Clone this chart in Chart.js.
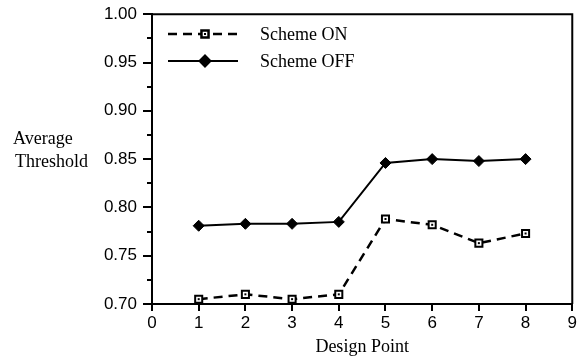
<!DOCTYPE html>
<html>
<head>
<meta charset="utf-8">
<script src="https://cdn.jsdelivr.net/npm/chart.js"></script>
<style>
  body { margin: 0; background: #fff; }
</style>
</head>
<body>
<canvas id="thresholdChart" width="581" height="358"></canvas>
<script>
// Data
const designPoints = [1, 2, 3, 4, 5, 6, 7, 8];
const schemeOn = [0.705, 0.710, 0.705, 0.710, 0.788, 0.782, 0.763, 0.773];
const schemeOff = [0.781, 0.783, 0.783, 0.785, 0.846, 0.850, 0.848, 0.850];
const seriesNames = ['Scheme ON', 'Scheme OFF'];
const yTitleLines = ['Average', 'Threshold'];
const xTitle = 'Design Point';

const toPoints = vals => designPoints.map((x, i) => ({ x: x, y: vals[i] }));

// box, tick marks, y title and legend drawn by hand
const decorations = {
    id: 'decorations',
    afterDatasetsDraw(chart) {
        const ctx = chart.ctx;
        // little dot in the middle of the open squares
        ctx.save();
        ctx.fillStyle = '#000';
        chart.getDatasetMeta(0).data.forEach(p => {
            ctx.fillRect(p.x - 1, p.y - 1, 2, 2);
        });
        ctx.restore();
    },
    afterDraw(chart) {
        const { ctx, chartArea: a, scales: { x, y } } = chart;
        ctx.save();
        ctx.strokeStyle = '#000';
        ctx.lineWidth = 2;

        // top and right side of the frame
        ctx.beginPath();
        ctx.moveTo(a.left, a.top);
        ctx.lineTo(a.right, a.top);
        ctx.lineTo(a.right, a.bottom);
        ctx.stroke();

        // y ticks: major every 0.05, minor halfway
        ctx.beginPath();
        for (let i = 0; i <= 12; i++) {
            const py = Math.round(y.getPixelForValue(0.7 + i * 0.025));
            const len = i % 2 ? 5 : 9;
            ctx.moveTo(a.left - len, py);
            ctx.lineTo(a.left, py);
        }
        // x ticks
        x.ticks.forEach(t => {
            const px = Math.round(x.getPixelForValue(t.value));
            ctx.moveTo(px, a.bottom);
            ctx.lineTo(px, a.bottom + 7);
        });
        ctx.stroke();

        // y title, horizontal, left of the axis
        ctx.fillStyle = '#000';
        ctx.font = '18px "Liberation Serif"';
        ctx.textAlign = 'left';
        ctx.textBaseline = 'middle';
        ctx.fillText(yTitleLines[0], 13, 139);
        ctx.fillText(yTitleLines[1], 15, 162);

        // legend
        const rows = [34, 61];
        chart.data.datasets.forEach((ds, i) => {
            const ly = rows[i];
            ctx.lineWidth = ds.borderWidth;
            ctx.setLineDash(ds.borderDash || []);
            ctx.beginPath();
            ctx.moveTo(168, ly);
            ctx.lineTo(238, ly);
            ctx.stroke();
            ctx.setLineDash([]);
            ctx.fillStyle = ds.pointBackgroundColor;
            ctx.strokeStyle = '#000';
            Chart.helpers.drawPoint(ctx, {
                pointStyle: ds.pointStyle,
                radius: ds.pointRadius,
                rotation: 0,
                borderWidth: ds.pointBorderWidth
            }, 205, ly);
            if (i === 0) {
                ctx.fillStyle = '#000';
                ctx.fillRect(204, ly - 1, 2, 2);
            }
            ctx.fillStyle = '#000';
            ctx.fillText(ds.label, 260, ly + 1);
        });
        ctx.restore();
    }
};

const ctx = document.getElementById('thresholdChart').getContext('2d');
new Chart(ctx, {
    type: 'line',
    data: {
        datasets: [
            {
                label: seriesNames[0],
                data: toPoints(schemeOn),
                borderColor: '#000',
                borderWidth: 2.5,
                borderDash: [9, 6],
                pointStyle: 'rect',
                pointRadius: 5,
                pointBackgroundColor: '#fff',
                pointBorderColor: '#000',
                pointBorderWidth: 2,
                tension: 0
            },
            {
                label: seriesNames[1],
                data: toPoints(schemeOff),
                borderColor: '#000',
                borderWidth: 2,
                pointStyle: 'rectRot',
                pointRadius: 5.5,
                pointBackgroundColor: '#000',
                pointBorderColor: '#000',
                pointBorderWidth: 1,
                tension: 0
            }
        ]
    },
    options: {
        responsive: false,
        animation: false,
        layout: { padding: 0 },
        plugins: {
            legend: { display: false },
            tooltip: { enabled: false }
        },
        scales: {
            x: {
                type: 'linear',
                min: 0,
                max: 9,
                afterFit: s => { s.height = 54; },
                ticks: {
                    stepSize: 1,
                    padding: 4,
                    color: '#000',
                    font: { family: 'Liberation Sans', size: 17 }
                },
                grid: { drawOnChartArea: false, tickLength: 5, tickColor: 'rgba(0,0,0,0)' },
                border: { color: '#000', width: 2 },
                title: {
                    display: true,
                    text: xTitle,
                    color: '#000',
                    padding: 0,
                    font: { family: 'Liberation Serif', size: 18 }
                }
            },
            y: {
                min: 0.7,
                max: 1.0,
                afterFit: s => { s.width = 152; },
                ticks: {
                    stepSize: 0.05,
                    padding: 4,
                    color: '#000',
                    font: { family: 'Liberation Sans', size: 17 },
                    callback: v => v.toFixed(2)
                },
                grid: { drawOnChartArea: false, tickLength: 11, tickColor: 'rgba(0,0,0,0)' },
                border: { color: '#000', width: 2 }
            }
        }
    },
    plugins: [decorations]
});
</script>
</body>
</html>
